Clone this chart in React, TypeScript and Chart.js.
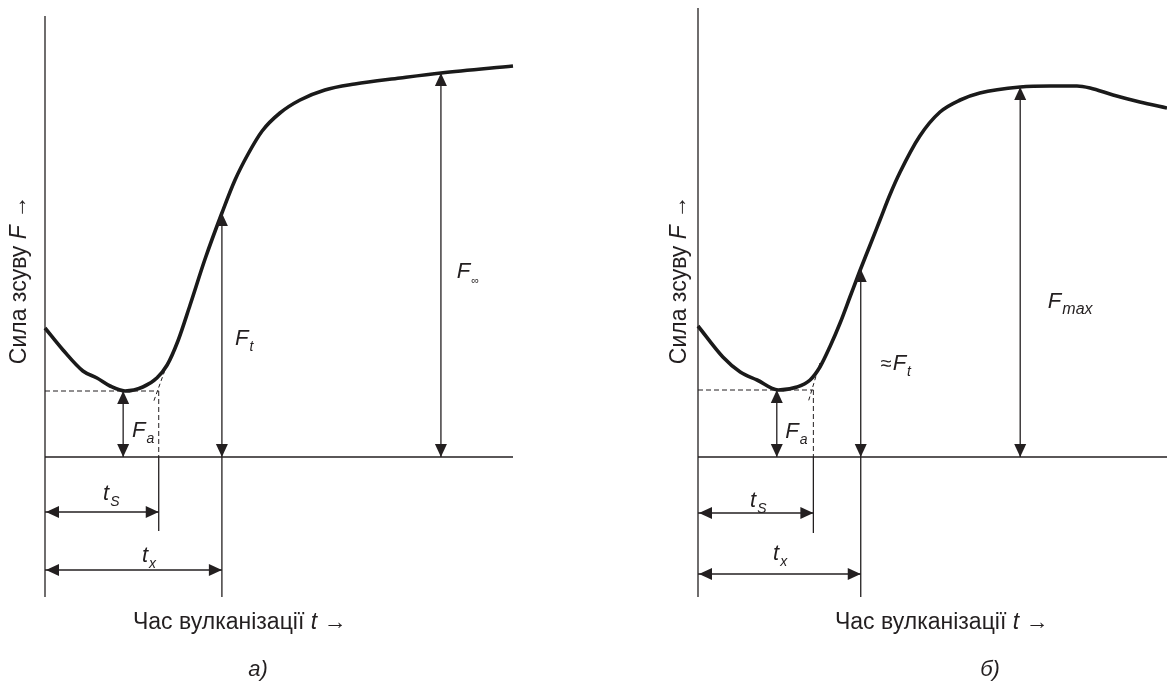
import React, { useEffect, useRef } from "react";
import { Chart, registerables } from "chart.js";

Chart.register(...registerables);

// Curve а): shear force rises after the scorch minimum and levels off at F∞
const timeA = [0, 0.385, 0.81, 1.11, 1.39, 1.71, 2.09, 2.39, 2.61, 2.84, 3.1, 3.42, 3.78, 4.06, 4.34, 4.64, 5.02, 5.45, 5.98, 6.62, 7.59, 8.46, 10];
const forceA = [12.9, 10.7, 8.6, 7.9, 7.1, 6.6, 7.0, 7.9, 9.2, 11.6, 15.2, 19.8, 24.4, 27.7, 30.3, 32.6, 34.4, 35.7, 36.7, 37.3, 37.9, 38.4, 39.1];

// Curve б): shear force passes through a maximum and then falls (reversion)
const timeB = [0, 0.53, 0.9, 1.26, 1.71, 2.11, 2.39, 2.6, 2.81, 3.03, 3.24, 3.45, 3.67, 3.88, 4.09, 4.31, 4.73, 5.16, 5.59, 6.01, 6.87, 7.51, 8.08, 8.36, 8.85, 9.42, 10];
const forceB = [13.1, 10.0, 8.5, 7.7, 6.7, 7.0, 7.7, 9.0, 11.0, 13.4, 16.0, 18.6, 21.2, 23.7, 26.2, 28.5, 32.1, 34.5, 35.7, 36.4, 37.0, 37.1, 37.1, 36.9, 36.2, 35.5, 34.9];

// Characteristic points, panel а): [time, force]
const minPointA = [1.67, 6.6];
const scorchTimeA = 2.43;
const cureTimeA = 3.78;
const cureForceA = 24.4;
const finalPointA = [8.46, 38.4];
const tangentA = [2.61, 9.3, 2.31, 5.4];

// Characteristic points, panel б)
const minPointB = [1.68, 6.7];
const scorchTimeB = 2.46;
const cureTimeB = 3.47;
const cureForceB = 18.8;
const maxPointB = [6.87, 37.0];
const tangentB = [2.6, 9.4, 2.35, 5.5];

const INK = "#231f20";
const FONT = "'Liberation Sans', Arial, sans-serif";

type Label = { t: number; f: number; main: string; sub: string; prefix?: string; subSize?: number };

type PanelSpec = {
  width: number;
  padLeft: number;
  padRight: number;
  padTop: number;
  yMax: number;
  time: number[];
  force: number[];
  minPoint: number[];
  scorchTime: number;
  cureTime: number;
  cureForce: number;
  topPoint: number[];
  tangent: number[];
  tsArrowF: number;
  tsLineEnd: number;
  txArrowF: number;
  labels: Label[];
  yTitleX: number;
  yTitleY: number;
  xTitleX: number;
  caption: string;
  captionX: number;
};

function arrowHead(ctx: CanvasRenderingContext2D, x: number, y: number, dir: string) {
  const len = 13;
  const half = 6;
  ctx.beginPath();
  ctx.moveTo(x, y);
  if (dir === "up") {
    ctx.lineTo(x - half, y + len);
    ctx.lineTo(x + half, y + len);
  } else if (dir === "down") {
    ctx.lineTo(x - half, y - len);
    ctx.lineTo(x + half, y - len);
  } else if (dir === "left") {
    ctx.lineTo(x + len, y - half);
    ctx.lineTo(x + len, y + half);
  } else {
    ctx.lineTo(x - len, y - half);
    ctx.lineTo(x - len, y + half);
  }
  ctx.closePath();
  ctx.fill();
}

function line(ctx: CanvasRenderingContext2D, x1: number, y1: number, x2: number, y2: number, dash: number[] = []) {
  ctx.setLineDash(dash);
  ctx.beginPath();
  ctx.moveTo(x1, y1);
  ctx.lineTo(x2, y2);
  ctx.stroke();
  ctx.setLineDash([]);
}

// Draws a run of text pieces, each with its own font, starting at x
function richText(ctx: CanvasRenderingContext2D, parts: [string, string][], x: number, y: number, align: string) {
  let total = 0;
  for (const [txt, font] of parts) {
    ctx.font = font;
    total += ctx.measureText(txt).width;
  }
  let cx = align === "center" ? x - total / 2 : x;
  ctx.textAlign = "left";
  for (const [txt, font] of parts) {
    ctx.font = font;
    ctx.fillText(txt, cx, y);
    cx += ctx.measureText(txt).width;
  }
}

function overlay(spec: PanelSpec) {
  return {
    id: "curingMarks",
    afterDatasetsDraw(chart: any) {
      const ctx: CanvasRenderingContext2D = chart.ctx;
      const xs = chart.scales.x;
      const ys = chart.scales.y;
      const px = (t: number) => xs.getPixelForValue(t);
      const py = (f: number) => ys.getPixelForValue(f);
      const x0 = px(0);
      const y0 = py(0);

      ctx.save();
      ctx.strokeStyle = INK;
      ctx.fillStyle = INK;
      ctx.lineWidth = 1.3;

      // axes
      line(ctx, x0, py(spec.yMax), x0, py(-14));
      line(ctx, x0, y0, px(10), y0);

      // scorch construction: dashed level of the minimum, dashed tangent, dashed drop
      ctx.lineWidth = 1;
      const [tm, fm] = spec.minPoint;
      line(ctx, x0, py(fm), px(spec.scorchTime), py(fm), [5, 3]);
      line(ctx, px(spec.scorchTime), py(fm), px(spec.scorchTime), y0, [5, 3]);
      const [a1, b1, a2, b2] = spec.tangent;
      line(ctx, px(a1), py(b1), px(a2), py(b2), [4, 3]);

      ctx.lineWidth = 1.3;
      // Fa
      line(ctx, px(tm), py(fm), px(tm), y0);
      arrowHead(ctx, px(tm), py(fm), "up");
      arrowHead(ctx, px(tm), y0, "down");

      // Ft and the tx extension
      line(ctx, px(spec.cureTime), py(spec.cureForce), px(spec.cureTime), py(-14));
      arrowHead(ctx, px(spec.cureTime), py(spec.cureForce), "up");
      arrowHead(ctx, px(spec.cureTime), y0, "down");

      // F∞ / Fmax
      const [tt, ft] = spec.topPoint;
      line(ctx, px(tt), py(ft), px(tt), y0);
      arrowHead(ctx, px(tt), py(ft), "up");
      arrowHead(ctx, px(tt), y0, "down");

      // ts
      line(ctx, px(spec.scorchTime), y0, px(spec.scorchTime), py(spec.tsLineEnd));
      line(ctx, x0, py(spec.tsArrowF), px(spec.scorchTime), py(spec.tsArrowF));
      arrowHead(ctx, x0 + 1, py(spec.tsArrowF), "left");
      arrowHead(ctx, px(spec.scorchTime), py(spec.tsArrowF), "right");

      // tx
      line(ctx, x0, py(spec.txArrowF), px(spec.cureTime), py(spec.txArrowF));
      arrowHead(ctx, x0 + 1, py(spec.txArrowF), "left");
      arrowHead(ctx, px(spec.cureTime), py(spec.txArrowF), "right");

      // symbol labels
      ctx.textBaseline = "alphabetic";
      for (const lb of spec.labels) {
        let x = px(lb.t);
        const y = py(lb.f);
        if (lb.prefix) {
          ctx.font = `20px ${FONT}`;
          ctx.textAlign = "right";
          ctx.fillText(lb.prefix, x - 1, y);
        }
        ctx.textAlign = "left";
        ctx.font = `italic 22px ${FONT}`;
        ctx.fillText(lb.main, x, y);
        x += ctx.measureText(lb.main).width;
        ctx.font = `italic ${lb.subSize ?? 14}px ${FONT}`;
        ctx.fillText(lb.sub, x + 1, y + 6);
      }

      // axis titles
      ctx.save();
      ctx.translate(spec.yTitleX, spec.yTitleY);
      ctx.rotate(-Math.PI / 2);
      ctx.textBaseline = "middle";
      richText(
        ctx,
        [
          ["Сила зсуву ", `23px ${FONT}`],
          ["F", `italic 23px ${FONT}`],
          [" →", `23px ${FONT}`],
        ],
        0,
        0,
        "center"
      );
      ctx.restore();

      ctx.textBaseline = "alphabetic";
      richText(
        ctx,
        [
          ["Час вулканізації ", `23px ${FONT}`],
          ["t", `italic 23px ${FONT}`],
          [" →", `23px ${FONT}`],
        ],
        spec.xTitleX,
        629,
        "left"
      );

      ctx.font = `italic 22px ${FONT}`;
      ctx.textAlign = "center";
      ctx.fillText(spec.caption, spec.captionX, 676);

      ctx.restore();
    },
  };
}

function Panel({ spec, left }: { spec: PanelSpec; left: number }) {
  const ref = useRef<HTMLCanvasElement | null>(null);
  useEffect(() => {
    if (!ref.current) return;
    const chart = new Chart(ref.current, {
      type: "line",
      data: {
        datasets: [
          {
            data: spec.time.map((t, i) => ({ x: t, y: spec.force[i] })),
            borderColor: "#1a1a1a",
            borderWidth: 3.6,
            pointRadius: 0,
            cubicInterpolationMode: "monotone",
            fill: false,
            clip: false as any,
          },
        ],
      },
      options: {
        animation: false,
        responsive: false,
        devicePixelRatio: 1,
        layout: { padding: { left: spec.padLeft, right: spec.padRight, top: spec.padTop, bottom: 84 } },
        scales: {
          x: { type: "linear", min: 0, max: 10, display: false },
          y: { type: "linear", min: -14, max: spec.yMax, display: false },
        },
        plugins: { legend: { display: false }, tooltip: { enabled: false } },
      },
      plugins: [overlay(spec)],
    });
    return () => chart.destroy();
  }, [spec]);
  return (
    <canvas
      ref={ref}
      width={spec.width}
      height={681}
      style={{ position: "absolute", left, top: 0, width: spec.width, height: 681 }}
    />
  );
}

const specA: PanelSpec = {
  width: 583,
  padLeft: 45,
  padRight: 70,
  padTop: 16,
  yMax: 44.1,
  time: timeA,
  force: forceA,
  minPoint: minPointA,
  scorchTime: scorchTimeA,
  cureTime: cureTimeA,
  cureForce: cureForceA,
  topPoint: finalPointA,
  tangent: tangentA,
  tsArrowF: -5.5,
  tsLineEnd: -7.4,
  txArrowF: -11.3,
  labels: [
    { t: 1.86, f: 2.0, main: "F", sub: "a" },
    { t: 4.06, f: 11.2, main: "F", sub: "t" },
    { t: 8.8, f: 17.9, main: "F", sub: "∞", subSize: 11 },
    { t: 1.24, f: -4.3, main: "t", sub: "S" },
    { t: 2.07, f: -10.5, main: "t", sub: "x" },
  ],
  yTitleX: 20,
  yTitleY: 280,
  xTitleX: 133,
  caption: "а)",
  captionX: 258,
};

const specB: PanelSpec = {
  width: 584,
  padLeft: 115,
  padRight: 0,
  padTop: 8,
  yMax: 44.9,
  time: timeB,
  force: forceB,
  minPoint: minPointB,
  scorchTime: scorchTimeB,
  cureTime: cureTimeB,
  cureForce: cureForceB,
  topPoint: maxPointB,
  tangent: tangentB,
  tsArrowF: -5.6,
  tsLineEnd: -7.6,
  txArrowF: -11.7,
  labels: [
    { t: 1.86, f: 1.9, main: "F", sub: "a" },
    { t: 4.15, f: 8.7, main: "F", sub: "t", prefix: "≈" },
    { t: 7.46, f: 14.9, main: "F", sub: "max", subSize: 16 },
    { t: 1.11, f: -5.0, main: "t", sub: "S" },
    { t: 1.6, f: -10.3, main: "t", sub: "x" },
  ],
  yTitleX: 97,
  yTitleY: 280,
  xTitleX: 835,
  caption: "б)",
  captionX: 407,
};

// the right panel's canvas starts at x=583, so its bottom title start is shifted into canvas space
specB.xTitleX = specB.xTitleX - 583;

export default function App() {
  return (
    <div style={{ position: "absolute", left: 0, top: 0, width: 1167, height: 681, background: "#fff" }}>
      <Panel spec={specA} left={0} />
      <Panel spec={specB} left={583} />
    </div>
  );
}
